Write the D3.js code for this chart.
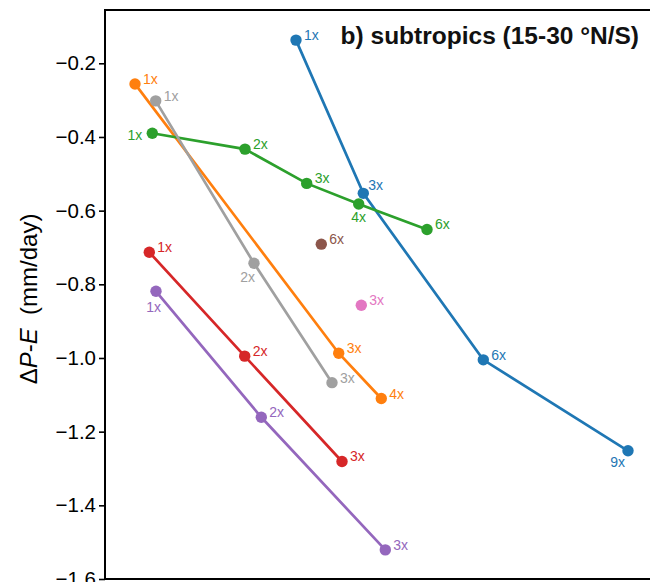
<!DOCTYPE html>
<html>
<head>
<meta charset="utf-8">
<script src="https://cdn.jsdelivr.net/npm/d3@7"></script>
<style>
  html, body { margin: 0; padding: 0; background: #fff; }
  svg { display: block; font-family: "Liberation Sans", Arial, sans-serif; }
</style>
</head>
<body>
<svg id="chart" width="650" height="582"></svg>
<script>
// ---- data (x in arbitrary units, y = ΔP-E in mm/day) ----
const seriesKeys   = ["blue", "orange", "green", "red", "purple", "brown", "pink", "gray"];
const blueX   = [1.91, 2.583, 3.783, 5.23];
const blueY   = [-0.137, -0.553, -1.005, -1.252];
const blueL   = ["1x", "3x", "6x", "9x"];
const orangeX = [0.30, 2.337, 2.763];
const orangeY = [-0.256, -0.987, -1.110];
const orangeL = ["1x", "3x", "4x"];
const greenX  = [0.473, 1.40, 2.017, 2.537, 3.22];
const greenY  = [-0.390, -0.433, -0.526, -0.582, -0.651];
const greenL  = ["1x", "2x", "3x", "4x", "6x"];
const redX    = [0.443, 1.397, 2.37];
const redY    = [-0.713, -0.995, -1.281];
const redL    = ["1x", "2x", "3x"];
const purpleX = [0.51, 1.563, 2.803];
const purpleY = [-0.819, -1.161, -1.521];
const purpleL = ["1x", "2x", "3x"];
const brownX  = [2.163];
const brownY  = [-0.691];
const brownL  = ["6x"];
const pinkX   = [2.563];
const pinkY   = [-0.857];
const pinkL   = ["3x"];
const grayX   = [0.507, 1.49, 2.27];
const grayY   = [-0.302, -0.743, -1.067];
const grayL   = ["1x", "2x", "3x"];
const yTicks  = [-0.2, -0.4, -0.6, -0.8, -1.0, -1.2, -1.4, -1.6];
const titleText = "b) subtropics (15-30 °N/S)";

// ---- styles / placement ----
const colors = {
  blue: "#1f77b4", orange: "#ff7f0e", green: "#2ca02c", red: "#d62728",
  purple: "#9467bd", brown: "#8c564b", pink: "#e377c2", gray: "#a0a0a0"
};
const dataBy = {
  blue: [blueX, blueY, blueL], orange: [orangeX, orangeY, orangeL],
  green: [greenX, greenY, greenL], red: [redX, redY, redL],
  purple: [purpleX, purpleY, purpleL], brown: [brownX, brownY, brownL],
  pink: [pinkX, pinkY, pinkL], gray: [grayX, grayY, grayL]
};
// label placement overrides: [dx, dy, anchor]
const labelPos = {
  "green-1x": [-10, 7, "end"],
  "green-4x": [0, 18, "middle"],
  "gray-2x": [1, 19, "end"],
  "purple-1x": [5, 21, "end"],
  "blue-9x": [-3, 16, "end"],
  "blue-3x": [5, -3, "start"]
};

const svg = d3.select("#chart");
const mLeft = 105, mTop = 10, mBottom = 579, mRight = 670;

const x = d3.scaleLinear().domain([0, 5.65]).range([mLeft, mRight]);
const y = d3.scaleLinear().domain([-1.6, -0.0553]).range([mBottom, mTop]);

// y axis
const yAxis = d3.axisLeft(y).tickValues(yTicks).tickSize(6).tickPadding(3)
  .tickFormat(d => d3.format(".1f")(d).replace("-", "\u2212"));
const gy = svg.append("g").attr("transform", `translate(${mLeft},0)`).call(yAxis);
gy.select(".domain").remove();
gy.selectAll(".tick line").attr("stroke", "#000").attr("stroke-width", 1.6);
gy.selectAll(".tick text").attr("font-size", 20.5).attr("fill", "#000")
  .attr("font-family", "Liberation Sans, Arial, sans-serif");

// frame
svg.append("path")
  .attr("d", `M${mRight},${mTop}H${mLeft}V${mBottom}H${mRight}`)
  .attr("fill", "none").attr("stroke", "#000").attr("stroke-width", 2);

// y label
const yl = svg.append("text")
  .attr("transform", `translate(37,299) rotate(-90)`)
  .attr("text-anchor", "middle").attr("font-size", 24).attr("fill", "#000");
yl.append("tspan").text("\u0394");
yl.append("tspan").attr("font-style", "italic").text("P");
yl.append("tspan").text("-");
yl.append("tspan").attr("font-style", "italic").text("E");
yl.append("tspan").text("\u00a0\u00a0(mm/day)");

// title
svg.append("text").attr("x", 639).attr("y", 44).attr("text-anchor", "end")
  .attr("font-size", 24.5).attr("font-weight", "bold").attr("fill", "#111")
  .text(titleText);

// series
const line = d3.line().x(d => x(d.x)).y(d => y(d.y));
seriesKeys.forEach(k => {
  const [xs, ys, ls] = dataBy[k];
  const pts = xs.map((v, i) => ({ x: v, y: ys[i], l: ls[i] }));
  const g = svg.append("g");
  if (pts.length > 1) {
    g.append("path").datum(pts).attr("d", line).attr("fill", "none")
      .attr("stroke", colors[k]).attr("stroke-width", 2.7);
  }
  g.selectAll("circle").data(pts).join("circle")
    .attr("cx", d => x(d.x)).attr("cy", d => y(d.y)).attr("r", 5.7)
    .attr("fill", colors[k]);
  g.selectAll("text").data(pts).join("text")
    .each(function (d) {
      const o = labelPos[`${k}-${d.l}`] || [8, 0, "start"];
      d3.select(this)
        .attr("x", x(d.x) + o[0]).attr("y", y(d.y) + o[1])
        .attr("text-anchor", o[2]);
    })
    .attr("font-size", 14).attr("fill", colors[k]).text(d => d.l);
});
</script>
</body>
</html>
